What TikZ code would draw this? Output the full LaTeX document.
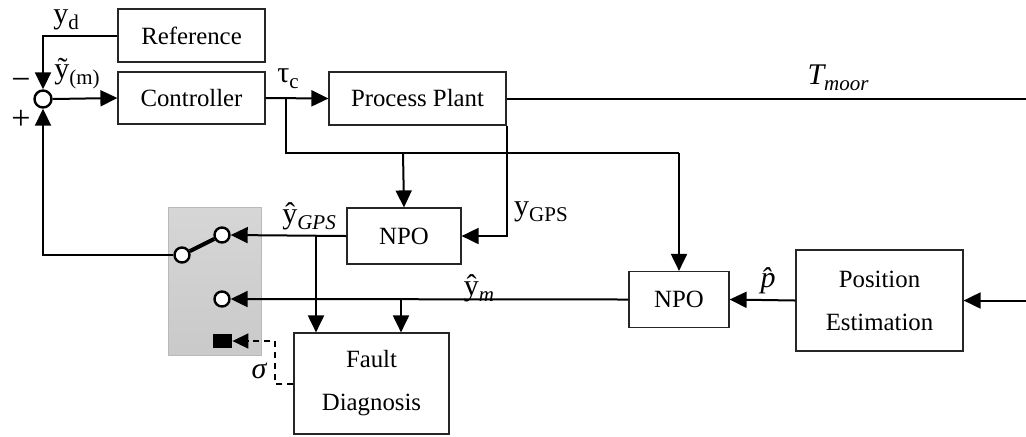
\documentclass[tikz,border=0pt]{standalone}
\usepackage{fontspec}
\setmainfont{Liberation Serif}
\usetikzlibrary{arrows.meta}
\newcommand\lsub[1]{\raisebox{-0.45ex}{\fontsize{10.5}{11}\selectfont #1}}
\begin{document}
\begin{tikzpicture}[x=0.5pt,y=-0.5pt,
  blk/.style={draw=black!85, line width=0.6pt, inner sep=0pt, align=center,
    font=\fontsize{12.4}{21.5}\selectfont},
  conn/.style={line width=1pt, -{Triangle[length=8.5pt,width=8pt]}},
  wire/.style={line width=1pt},
  junc/.style={circle, draw, fill=white, line width=1.2pt, inner sep=0pt, minimum size=#1},
  lab/.style={inner sep=0pt, font=\fontsize{15}{16}\selectfont}]

\useasboundingbox (0,0) rectangle (1026,436);

% switch housing
\shade[top color=gray!32, bottom color=gray!42, draw=gray!55, line width=0.5pt]
  (168,207) rectangle (261,355);

% blocks
\node[blk, minimum width=73.5pt, minimum height=26.5pt] (ref)   at (191.5,35.5) {Reference};
\node[blk, minimum width=73.5pt, minimum height=26pt]   (ctrl)  at (191.5,98)   {Controller};
\node[blk, minimum width=88.5pt, minimum height=26.5pt] (plant) at (417.5,98.5) {Process Plant};
\node[blk, minimum width=57pt,   minimum height=28pt]   (npo1)  at (404,236)    {NPO};
\node[blk, minimum width=50pt,   minimum height=28pt]   (npo2)  at (679,299.5)  {NPO};
\node[blk, minimum width=83.5pt, minimum height=50.5pt] (pe)    at (879.5,300.5) {Position\\Estimation};
\node[blk, minimum width=77.5pt, minimum height=50.5pt] (fd)    at (371.5,383.5) {Fault\\Diagnosis};

% summing junction and switch contacts
\node[junc=8.5pt] (sum) at (43,99) {};
\node[junc=7.5pt] (sw1) at (182,255) {};
\node[junc=7.5pt] (sw2) at (222,235) {};
\node[junc=7.5pt] (sw3) at (222,299) {};
\node[fill=black, inner sep=0pt, minimum width=9.5pt, minimum height=7pt] (sq) at (222.5,341) {};

% free ends at the right border
\coordinate (moorR) at (1026,98.5);
\coordinate (peIn)  at (1026,300.5);

% branch points
\coordinate (tauB)  at (286,98);
\coordinate (tauD)  at (286,153);
\coordinate (tauR)  at (679,153);
\coordinate (tauN)  at (403,153);
\coordinate (gpsB)  at (316,235);
\coordinate (ymB)   at (401,299.5);
\coordinate (dashR) at (275,384);

% signal paths
\draw[conn] (ref.west) -| (sum.north);
\draw[conn] (sum.east) -- (ctrl.west);
\draw[conn] (ctrl.east) -- (plant.west);
\draw[wire] (tauB) -- (tauD) -- (tauR);
\draw[conn] (tauR) -- (npo2.north);
\draw[conn] (tauN) -- (npo1.north);
\draw[conn] (plant.south east) |- (npo1.east);
\draw[wire] (plant.east) -- (moorR);
\draw[conn] (peIn) -- (pe.east);
\draw[conn] (pe.west) -- (npo2.east);
\draw[conn] (npo2.west) -- (sw3.east);
\draw[conn] (npo1.west) -- (sw2.east);
\draw[conn] (gpsB) -- (gpsB |- fd.north);
\draw[conn] (ymB) -- (ymB |- fd.north);
\draw[conn] (sw1.west) -| (sum.south);
\draw[line width=2pt] (sw1) -- (sw2);
\draw[line width=0.8pt, dash pattern=on 3pt off 2.5pt, -{Triangle[length=8pt,width=7.5pt]}]
  (fd.west |- dashR) -- (dashR) |- (sq.east);

% labels
\node[lab] (lyd)  at (66,20)   {y\lsub{d}};
\node[lab] (lym)  at (77,74)   {ỹ\lsub{(m)}};
\node[lab, font=\fontsize{17}{17}\selectfont] (lmin) at (21,84)  {−};
\node[lab, font=\fontsize{17}{17}\selectfont] (lpl)  at (21,120) {+};
\node[lab] (ltau) at (288,79)  {τ\lsub{c}};
\node[lab] (lmoor) at (838,78) {\itshape T\lsub{moor}};
\node[lab] (lgh)  at (309,216) {ŷ\lsub{\itshape GPS}};
\node[lab] (lgps) at (541,212) {y\lsub{GPS}};
\node[lab] (lymh) at (479,288) {ŷ\lsub{\itshape m}};
\node[lab] (lp)   at (768,281) {\itshape p̂};
\node[lab] (lsig) at (259,371) {\itshape σ};
\end{tikzpicture}
\end{document}
